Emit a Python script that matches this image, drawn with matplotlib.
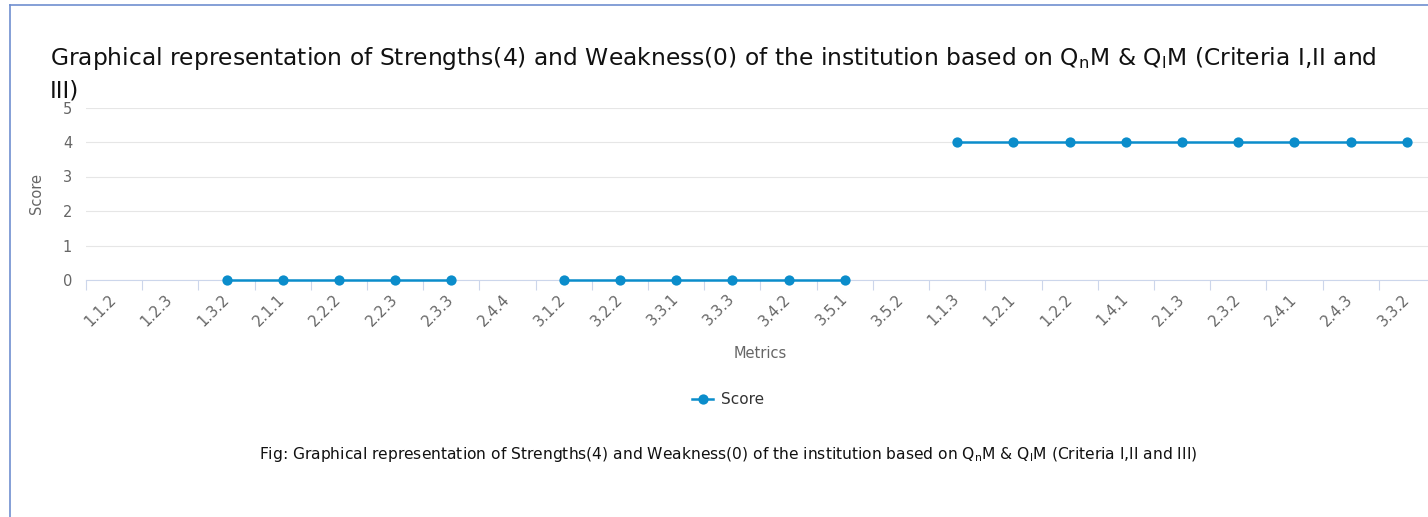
import numpy as np
import matplotlib
matplotlib.use("Agg")
import matplotlib.pyplot as plt
from matplotlib.lines import Line2D

# --- data ---
metrics = ["1.1.2", "1.2.3", "1.3.2", "2.1.1", "2.2.2", "2.2.3", "2.3.3", "2.4.4",
           "3.1.2", "3.2.2", "3.3.1", "3.3.3", "3.4.2", "3.5.1", "3.5.2",
           "1.1.3", "1.2.1", "1.2.2", "1.4.1", "2.1.3", "2.3.2", "2.4.1", "2.4.3", "3.3.2"]
scores = [None, None, 0, 0, 0, 0, 0, None,
          0, 0, 0, 0, 0, 0, None,
          4, 4, 4, 4, 4, 4, 4, 4, 4]
y_ticks = [0, 1, 2, 3, 4, 5]

TITLE_1 = "Graphical representation of Strengths(4) and Weakness(0) of the institution based on Q$_\\mathrm{n}$M & Q$_\\mathrm{l}$M (Criteria I,II and"
TITLE_2 = "III)"
CAPTION = "Fig: Graphical representation of Strengths(4) and Weakness(0) of the institution based on Q$_\\mathrm{n}$M & Q$_\\mathrm{l}$M (Criteria I,II and III)"

LINE_COLOR = "#0b8dcb"
AXIS_COLOR = "#ccd6eb"
GRID_COLOR = "#e6e6e6"
TEXT_GREY = "#666666"

W, H = 1428, 517
plt.rcParams["font.family"] = ["DejaVu Sans"]
plt.rcParams["mathtext.fontset"] = "dejavusans"

fig = plt.figure(figsize=(W / 100, H / 100), dpi=100)

# plot area in pixels (the right edge runs past the cropped picture)
left, right, top, bottom = 86, 1435, 107.5, 280
ax = fig.add_axes([left / W, 1 - bottom / H, (right - left) / W, (bottom - top) / H])

x = np.arange(len(metrics))
y = np.array([np.nan if v is None else v for v in scores], dtype=float)
ax.plot(x, y, color=LINE_COLOR, lw=1.8, marker="o", markersize=7.4,
        markeredgewidth=0, label="Score", clip_on=False, zorder=3)

ax.set_xlim(-0.5, len(metrics) - 0.5)
ax.set_ylim(0, 5)

# y axis: grid lines, no axis line
ax.set_yticks(y_ticks)
ax.tick_params(axis="y", length=0, pad=10, labelsize=10.5, labelcolor=TEXT_GREY)
ax.yaxis.grid(True, color=GRID_COLOR, lw=0.8)
ax.set_axisbelow(True)

# x axis: tick marks between categories, labels in the middle
ax.set_xticks(np.arange(-0.5, len(metrics), 1))
ax.set_xticklabels([])
ax.tick_params(axis="x", which="major", length=7.5, width=0.8, color=AXIS_COLOR)
ax.set_xticks(x, minor=True)
ax.set_xticklabels(metrics, minor=True, rotation=45, ha="right", va="center",
                   rotation_mode="anchor")
ax.tick_params(axis="x", which="minor", length=0, pad=12, labelsize=10.6, labelcolor=TEXT_GREY)

for side in ["left", "right", "top"]:
    ax.spines[side].set_visible(False)
ax.spines["bottom"].set_color(AXIS_COLOR)
ax.spines["bottom"].set_linewidth(0.8)

ax.set_ylabel("Score", fontsize=10.5, color=TEXT_GREY, va="center")
ax.yaxis.set_label_coords((37 - left) / (right - left), 0.5)
ax.set_xlabel("Metrics", fontsize=10.5, color=TEXT_GREY, va="center")
ax.xaxis.set_label_coords(0.5, -(353 - bottom) / (bottom - top))

# titles and caption
fig.text(50 / W, 1 - 65 / H, TITLE_1, fontsize=16.8, color="#111111", va="baseline")
fig.text(50 / W, 1 - 97 / H, TITLE_2, fontsize=16.8, color="#111111", va="baseline")
fig.text(728 / W, 1 - 455 / H, CAPTION, fontsize=11.2, color="#111111", ha="center", va="center")

# legend
fig.legend(loc="center", bbox_to_anchor=(728 / W, 1 - 400 / H), frameon=False,
           fontsize=11, handlelength=1.4, handletextpad=0.5, labelcolor="#333333")

# container border (left and top)
fig.add_artist(Line2D([9.5 / W, 9.5 / W], [0, 1 - 5 / H], color="#6f8fcf", lw=1.2))
fig.add_artist(Line2D([9.5 / W, 1], [1 - 5 / H, 1 - 5 / H], color="#6f8fcf", lw=1.2))

fig.savefig("out.png", dpi=100)
